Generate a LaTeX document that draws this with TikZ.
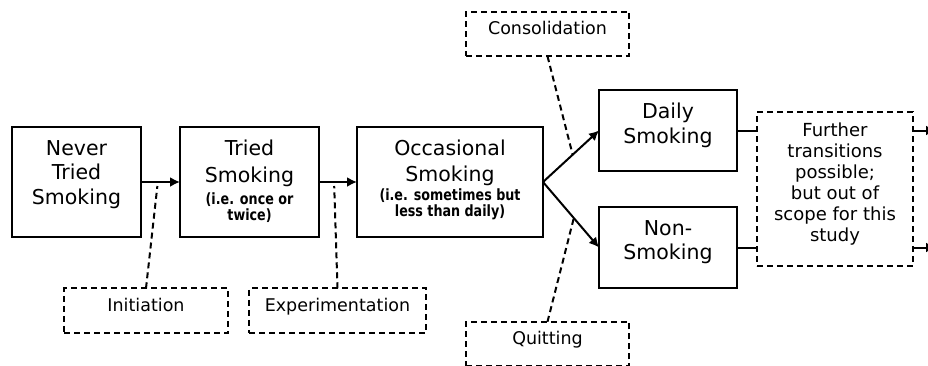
\documentclass[tikz,border=0pt]{standalone}
\usepackage{fontspec}
\setmainfont{DejaVu Sans}
\newfontfamily\subfont[FakeStretch=0.82]{DejaVu Sans}
\usetikzlibrary{arrows.meta, calc, positioning}

\newcommand{\subtext}[1]{{\subfont\fontsize{15.5}{16}\selectfont\bfseries #1}}

\begin{document}
\begin{tikzpicture}[x=1pt, y=1pt, font=\fontsize{20.5}{24.5}\selectfont, >={Latex[length=10pt,width=10pt]}]
\tikzset{every node/.style={inner xsep=2pt, inner ysep=0pt, outer sep=0mm}}

\tikzstyle{stage}=[rectangle, draw=black, line width=2pt, align=center]
\tikzstyle{short}=[minimum width=138pt]
\tikzstyle{outlook}=[rectangle, draw=black, line width=2pt, dash pattern=on 6pt off 4pt, align=center, font=\fontsize{18}{21}\selectfont, minimum width=156pt, text height=129pt, text depth=25pt]
\tikzstyle{note}=[rectangle, draw=black, line width=2pt, dash pattern=on 6pt off 4pt, font=\fontsize{17.5}{21}\selectfont, text height=23pt, text depth=21.5pt]
\tikzstyle{post}=[->, line width=2pt]
\tikzstyle{link}=[line width=2pt]
\tikzstyle{callout}=[line width=2pt, dash pattern=on 6pt off 4pt]

\useasboundingbox (0,0) rectangle (928,365);

\node[stage, minimum width=129pt, text height=77pt, text depth=33pt] (never) at (76.5,183) {Never\\Tried\\Smoking};
\node[stage, minimum width=139pt, text height=93pt, text depth=17pt, right=39pt of never] (tried) {Tried\\[2pt]Smoking\\[-2.5pt]\subtext{(i.e. once or}\\[-8.5pt]\subtext{twice)}};
\node[stage, minimum width=186pt, text height=89pt, text depth=21pt, right=38pt of tried] (occ) {Occasional\\[2pt]Smoking\\[-6.2pt]\subtext{(i.e. sometimes but}\\[-8.5pt]\subtext{less than daily)}};

\node[stage, short, text height=53pt, text depth=28pt] (daily) at (668,234.5) {Daily\\[0.5pt]Smoking};
\node[stage, short, text height=52.5pt, text depth=28.5pt, below=36pt of daily] (non) {Non-\\Smoking};

\node[outlook, anchor=west] (further) at ($(daily.east)!0.5!(non.east)+(20,0)$) {Further\\transitions\\possible;\\but out of\\scope for this\\study};

\node[note, minimum width=164pt] (init) at (146,54.5) {Initiation};
\node[note, minimum width=177pt, right=21pt of init] (exper) {Experimentation};
\node[note, minimum width=163pt] (consol) at (547.5,331) {Consolidation};
\node[note, minimum width=163pt] (quit) at (547.5,21) {Quitting};

\draw[post] (never) -- (tried);
\draw[post] (tried) -- (occ);
\draw[post] (occ.east) -- (daily.west);
\draw[post] (occ.east) -- (non.west);

\draw[link] (daily.east) -- (daily.east -| further.west);
\draw[link] (non.east) -- (non.east -| further.west);

\coordinate (out top) at ($(daily.east -| further.east)+(23,0)$);
\coordinate (out bottom) at ($(non.east -| further.east)+(23,0)$);
\draw[post] (daily.east -| further.east) -- (out top);
\draw[post] (non.east -| further.east) -- (out bottom);

\coordinate (init end) at ($(never.east)!0.42!(tried.west)+(0,-4)$);
\coordinate (exper end) at ($(tried.east)!0.4!(occ.west)+(0,-4)$);
\coordinate (consol end) at ($(occ.east)!0.53!(daily.west)$);
\coordinate (quit end) at ($(occ.east)!0.55!(non.west)$);

\draw[callout] (init.north) -- (init end);
\draw[callout] (exper.north) -- (exper end);
\draw[callout] (consol.south) -- (consol end);
\draw[callout] (quit.north) -- (quit end);

\end{tikzpicture}
\end{document}
